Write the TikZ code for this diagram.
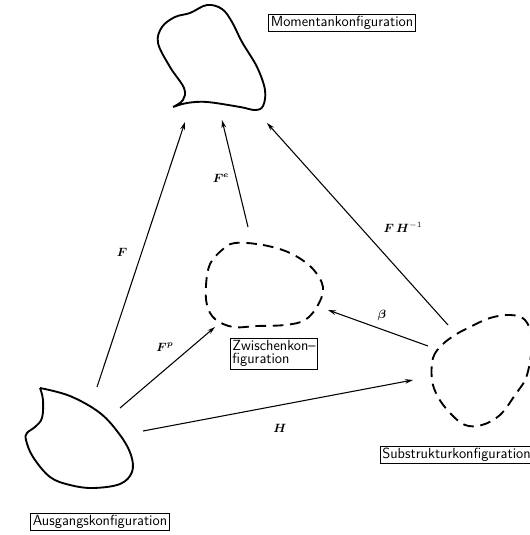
\documentclass[tikz,border=0pt]{standalone}
\usepackage{bm}
\usetikzlibrary{arrows.meta}
\begin{document}
\begin{tikzpicture}[x=0.75pt,y=-0.75pt,
  blob/.style={line width=1.4pt, line join=round},
  dblob/.style={blob, dash pattern=on 8pt off 5pt},
  arr/.style={line width=0.8pt, -{Stealth[length=6pt,width=3.5pt]}},
  lbl/.style={draw, line width=0.6pt, inner sep=1.5pt, font=\sffamily\fontsize{11}{10}\selectfont},
  mlab/.style={font=\small}]
\useasboundingbox (0,0) rectangle (529,535);
% bodies
\draw[blob] plot[smooth, tension=0.6] coordinates {(173,107) (183,100) (184,88) (170,67) (158,43) (162,27) (175,17) (190,13) (207,5) (222,9) (232,22) (242,42) (257,67) (265,90) (263,106) (255,110) (240,107) (207,102) (187,103) (173,107)};
\draw[blob] plot[smooth, tension=0.6] coordinates {(40,388) (43,400) (42,418) (35,427) (27,433) (26,440) (33,457) (50,477) (70,485) (93,488) (120,484) (132,472) (131,455) (120,435) (100,413) (70,396) (40,388)};
\draw[dblob] plot[smooth cycle, tension=0.6] coordinates {(235,243) (263,245) (290,253) (312,268) (323,287) (318,305) (305,320) (285,325) (257,326) (233,327) (215,319) (207,305) (206,285) (210,264) (222,250)};
\draw[dblob] plot[smooth cycle, tension=0.6] coordinates {(432,380) (433,358) (442,345) (455,335) (470,327) (490,318) (510,315) (525,320) (532,340) (527,375) (515,395) (500,415) (482,425) (465,425) (450,413) (438,397)};
% end points
\coordinate (Fa) at (97,387);   \coordinate (Fb) at (185,122);
\coordinate (Ea) at (248,227);  \coordinate (Eb) at (222,120);
\coordinate (Ga) at (448,325);  \coordinate (Gb) at (267,123);
\coordinate (Ba) at (428,346);  \coordinate (Bb) at (328,310);
\coordinate (Pa) at (120,408);  \coordinate (Pb) at (215,327);
\coordinate (Ha) at (143,431);  \coordinate (Hb) at (413,380);
\draw[arr] (Fa) -- (Fb);
\draw[arr] (Ea) -- (Eb);
\draw[arr] (Ga) -- (Gb);
\draw[arr] (Ba) -- (Bb);
\draw[arr] (Pa) -- (Pb);
\draw[arr] (Ha) -- (Hb);
% math labels
\node[mlab] (lF) at (122,252) {$\bm{F}$};
\node[mlab] (lE) at (221,178) {$\bm{F}^{\bm{e}}$};
\node[mlab] (lG) at (403,227) {$\bm{F}\,\bm{H}^{-1}$};
\node[mlab] (lB) at (382,315) {$\bm{\beta}$};
\node[mlab] (lP) at (165,347) {$\bm{F}^{\bm{p}}$};
\node[mlab] (lH) at (280,428) {$\bm{H}$};
% boxes
\node[lbl] (mom) at (342,23) {Momentankonfiguration};
\node[lbl, anchor=north west, align=left] (zw) at (230,338) {Zwischenkon--\\figuration};
\node[lbl, anchor=west] (sub) at (380,455) {Substrukturkonfiguration};
\node[lbl] (aus) at (100,522) {Ausgangskonfiguration};
\end{tikzpicture}
\end{document}
